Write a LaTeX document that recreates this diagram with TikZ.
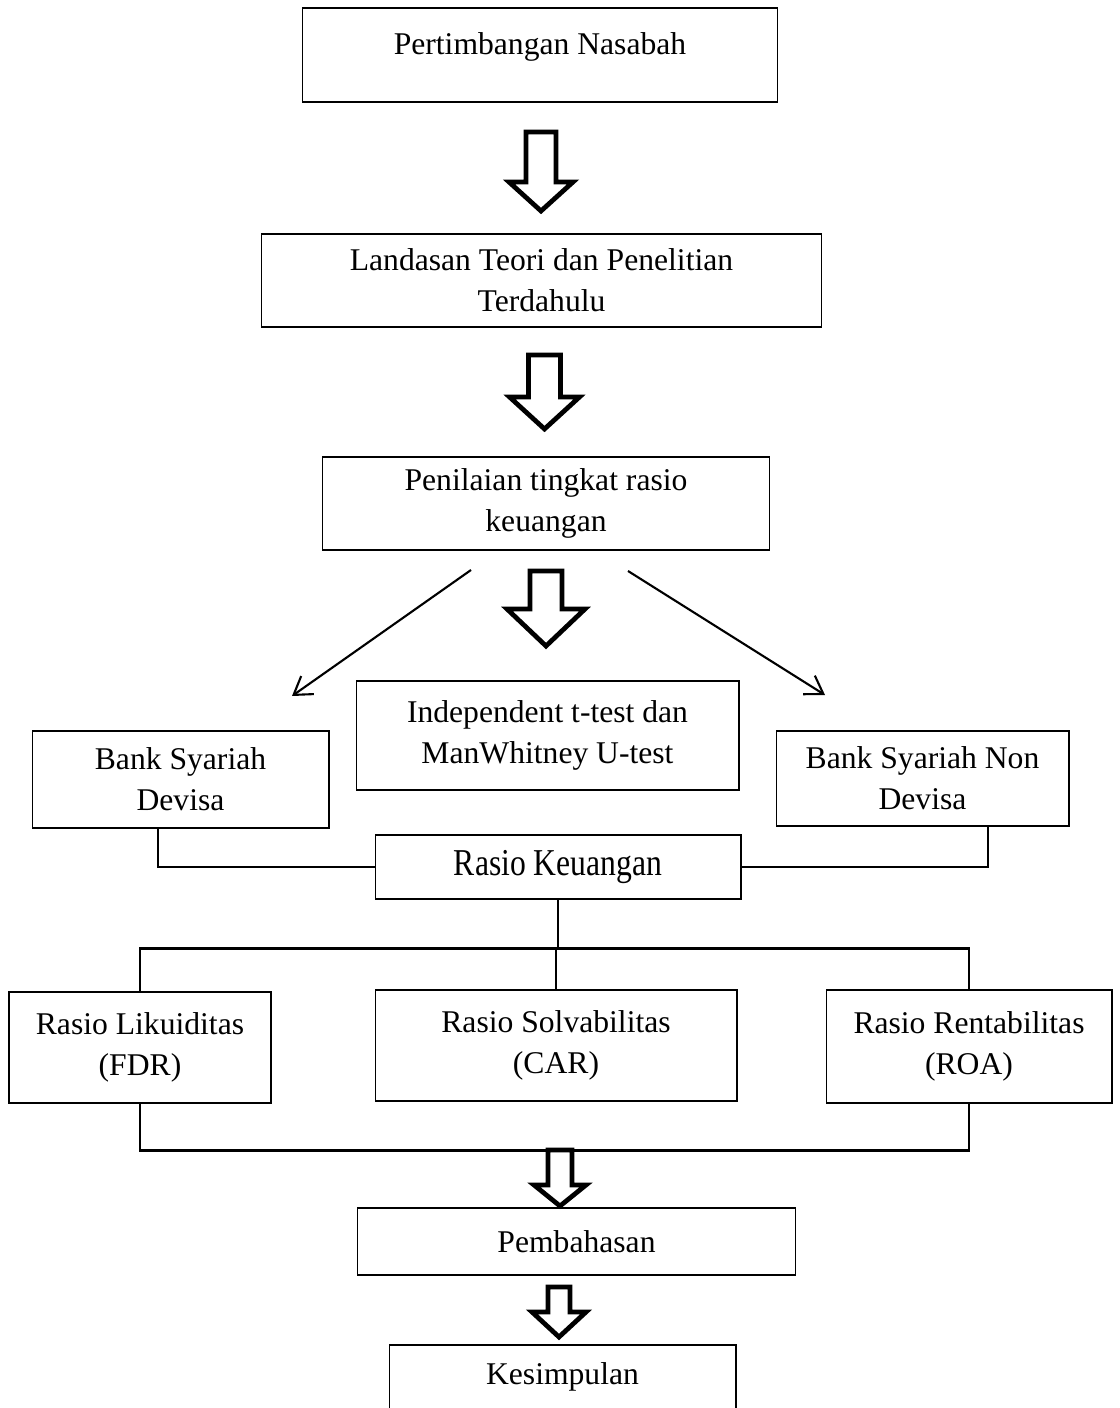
\documentclass[tikz,border=0pt]{standalone}
\usepackage{fontspec}
\setmainfont{Liberation Serif}
\usepackage{tikz}
\usetikzlibrary{arrows.meta}

% hollow block arrow: centre x, shaft half width, head half width, top, head start, tip
\newcommand{\hollowarrow}[6]{%
  \draw[hollow] ({#1-#2},#4) -- ({#1+#2},#4) -- ({#1+#2},#5) -- ({#1+#3},#5)
    -- (#1,#6) -- ({#1-#3},#5) -- ({#1-#2},#5) -- cycle;}

\tikzset{
  box/.style={draw, line width=0.6pt, align=center, inner sep=0pt,
    font=\fontsize{18}{23.3}\selectfont},
  link/.style={line width=1.2pt},
  thinarrow/.style={line width=1.2pt, -{Straight Barb[length=3.4mm, width=4.4mm]}},
  hollow/.style={draw, line width=2.7pt, fill=white, line join=miter}
}

\begin{document}
\begin{tikzpicture}[x=0.02cm, y=-0.02cm]
        \useasboundingbox (0,0) rectangle (1119,1408);

        % Boxes
        \node[box, minimum width=9.52cm, minimum height=1.88cm] (nasabah) at (540,55) {\raisebox{0.16cm}[\height][\depth]{Pertimbangan Nasabah}};
        \node[box, minimum width=11.22cm, minimum height=1.86cm] (teori) at (541.5,280.5) {Landasan Teori dan Penelitian\\Terdahulu};
        \node[box, minimum width=8.96cm, minimum height=1.86cm] (nilai) at (546,503.5) {Penilaian tingkat rasio\\keuangan};
        \node[box, minimum width=7.66cm, minimum height=2.18cm] (uji) at (547.5,735.5) {Independent t-test dan\\ManWhitney U-test};
        \node[box, minimum width=5.94cm, minimum height=1.94cm] (devisa) at (180.5,779.5) {Bank Syariah\\Devisa};
        \node[box, minimum width=5.86cm, minimum height=1.9cm] (nondevisa) at (922.5,778.5) {Bank Syariah Non\\Devisa};
        \node[box, minimum width=7.32cm, minimum height=1.28cm] (rasio) at (558,867) {\scalebox{1}[1.2]{Rasio Keuangan}};
        \node[box, minimum width=5.24cm, minimum height=2.22cm] (fdr) at (140,1047.5) {Rasio Likuiditas\\(FDR)};
        \node[box, minimum width=7.24cm, minimum height=2.22cm] (car) at (556,1045.5) {Rasio Solvabilitas\\(CAR)};
        \node[box, minimum width=5.72cm, minimum height=2.26cm] (roa) at (969,1046.5) {Rasio Rentabilitas\\(ROA)};
        \node[box, minimum width=8.78cm, minimum height=1.34cm] (bahas) at (576.5,1241.5) {Pembahasan};
        \node[box, minimum width=6.94cm, minimum height=1.28cm] (simpul) at (562.5,1377) {Kesimpulan};

        % Big hollow arrows
        \hollowarrow{541}{15}{32}{132}{182}{211}
        \hollowarrow{544.5}{16}{35}{355}{397}{429}
        \hollowarrow{546}{16}{39}{571}{609}{646}
        \hollowarrow{559}{11}{27}{1287}{1312}{1337}

        % Thin arrows to the two bank groups
        \coordinate (l0) at (471,570);
        \coordinate (l1) at (292,696);
        \coordinate (r0) at (628,571);
        \coordinate (r1) at (825,695);
        \draw[thinarrow] (l0) -- (l1);
        \draw[thinarrow] (r0) -- (r1);

        % Banks joined to the ratio box
        \draw[link] (rasio.west) -| ([xshift=-0.45cm]devisa.south);
        \draw[link] (rasio.east) -| ([xshift=1.31cm]nondevisa.south);

        % Ratio box split into three ratios
        \draw[link] (rasio.south) -- ++(0,49) coordinate (split);
        \draw[link] (fdr.north) |- (split) -| (roa.north);
        \draw[link] (car.north |- split) -- (car.north);

        % Three ratios joined below, arrow on top of the line
        \draw[link] (fdr.south) -- ++(0,47) -| (roa.south);
        \hollowarrow{560}{12}{26}{1150}{1185}{1206}
\end{tikzpicture}
\end{document}
